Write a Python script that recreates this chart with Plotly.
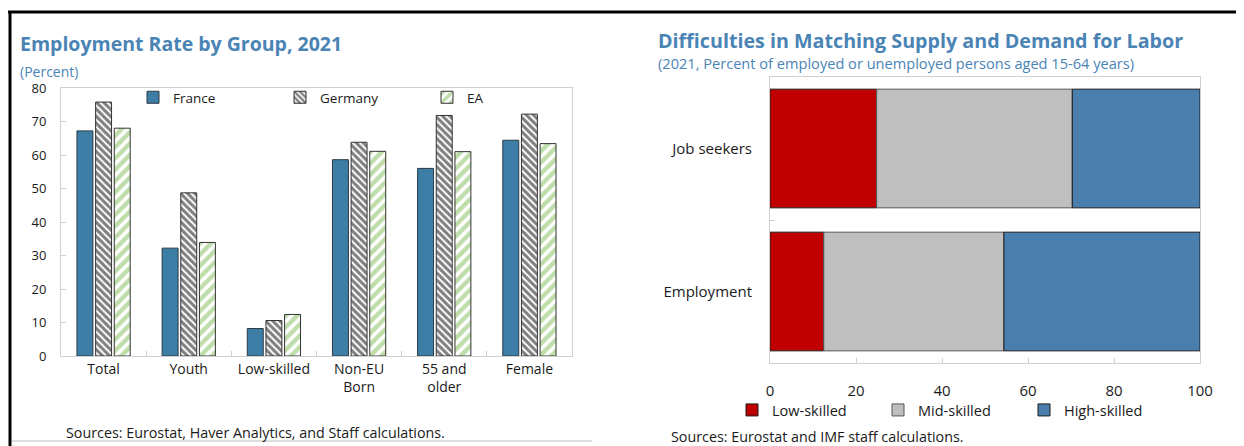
import plotly.graph_objects as go

# ---------------- data ----------------
groups = ["Total", "Youth", "Low-skilled", "Non-EU<br>Born", "55 and<br>older", "Female"]
france = [67.2, 32.2, 8.2, 58.6, 56.0, 64.4]
germany = [75.8, 48.7, 10.6, 63.8, 71.8, 72.2]
ea = [68.0, 33.9, 12.4, 61.1, 61.0, 63.4]

rows = ["Job seekers", "Employment"]
low_sk = [24.8, 12.5]
mid_sk = [45.5, 41.9]
high_sk = [29.7, 45.6]

# page body has an 8px margin: build the figure 8px smaller and shift coordinates
OFF = 8
W, H = 1244 - OFF, 446 - OFF
FONT = "Open Sans"
BLUE_T = "#4a84b5"


def px(x):
    return (x - OFF) / W


def py(y):
    return 1 - (y - OFF) / H


fig = go.Figure()

# ---------------- left chart ----------------
fig.add_trace(go.Bar(x=groups, y=france, name="France", xaxis="x", yaxis="y",
                     marker=dict(color="#3d7ea6", line=dict(color="#2b3a44", width=1)),
                     legend="legend"))
fig.add_trace(go.Bar(x=groups, y=germany, name="Germany", xaxis="x", yaxis="y",
                     marker=dict(color="white", line=dict(color="#333333", width=1),
                                 pattern=dict(shape="\\", fgcolor="#000000", bgcolor="white",
                                              size=5, solidity=0.6)),
                     legend="legend"))
fig.add_trace(go.Bar(x=groups, y=ea, name="EA", xaxis="x", yaxis="y",
                     marker=dict(color="white", line=dict(color="#333333", width=1),
                                 pattern=dict(shape="/", fgcolor="#7fbb55", bgcolor="white",
                                              size=8, solidity=0.55)),
                     legend="legend"))

# ---------------- right chart ----------------
base_mid = low_sk
base_high = [a + b for a, b in zip(low_sk, mid_sk)]
common = dict(orientation="h", xaxis="x2", yaxis="y2", legend="legend2",
              width=0.83, offset=-0.415, offsetgroup="r")
fig.add_trace(go.Bar(y=rows, x=low_sk, base=[0] * len(rows), name="Low-skilled",
                     marker=dict(color="#c00000", line=dict(color="#1a1a1a", width=1)), **common))
fig.add_trace(go.Bar(y=rows, x=mid_sk, base=base_mid, name="Mid-skilled",
                     marker=dict(color="#bfbfbf", line=dict(color="#555555", width=1)), **common))
fig.add_trace(go.Bar(y=rows, x=high_sk, base=base_high, name="High-skilled",
                     marker=dict(color="#4a7fad", line=dict(color="#1a1a1a", width=1)), **common))

axis_line = "#d0d0d0"

fig.update_layout(
    width=W, height=H, autosize=False,
    margin=dict(l=0, r=0, t=0, b=0, autoexpand=False),
    paper_bgcolor="white", plot_bgcolor="white",
    font=dict(family=FONT, color="#1a1a1a", size=13),
    barmode="group", bargap=0.343, bargroupgap=0.145,
    xaxis=dict(domain=[px(61), px(572)], showline=True, mirror=True, linecolor=axis_line,
               linewidth=1, ticks="inside", tickson="boundaries", ticklen=5,
               tickcolor=axis_line, showgrid=False, tickfont=dict(size=14),
               automargin=False),
    yaxis=dict(domain=[py(356), py(88)], range=[0, 80], dtick=10, showline=True, mirror=True,
               linecolor=axis_line, linewidth=1, ticks="inside", ticklen=5,
               tickcolor=axis_line, showgrid=False, zeroline=False,
               tickfont=dict(size=13), ticklabelstandoff=11, automargin=False),
    xaxis2=dict(domain=[px(770), px(1200)], anchor="y2", range=[0, 100], tickvals=[0, 20, 40, 60, 80, 100],
                showline=True, mirror=True, linecolor=axis_line, linewidth=1,
                ticks="inside", ticklen=5, tickcolor=axis_line, showgrid=False,
                zeroline=False, tickfont=dict(size=15), ticklabelstandoff=14,
                automargin=False),
    yaxis2=dict(domain=[py(363), py(77)], anchor="x2", categoryorder="array",
                categoryarray=["Employment", "Job seekers"], showline=True, mirror=True,
                linecolor=axis_line, linewidth=1, ticks="inside", tickson="boundaries",
                ticklen=5, tickcolor=axis_line, showgrid=False,
                tickfont=dict(size=15), ticklabelstandoff=14, automargin=False),
    legend=dict(orientation="h", x=px(133), y=py(82), xanchor="left", yanchor="top",
                bgcolor="rgba(0,0,0,0)", font=dict(size=13.5), entrywidth=102,
                entrywidthmode="pixels", itemwidth=30, traceorder="normal",
                itemclick=False, itemdoubleclick=False),
    legend2=dict(orientation="h", x=px(732), y=py(394), xanchor="left", yanchor="top",
                 bgcolor="rgba(0,0,0,0)", font=dict(size=14.5), entrywidth=101,
                 entrywidthmode="pixels", itemwidth=30, traceorder="normal",
                 itemclick=False, itemdoubleclick=False),
    showlegend=True,
)

annotations = [
    dict(text="<b>Employment Rate by Group, 2021</b>", x=px(18), y=py(43),
         font=dict(size=19.5, color=BLUE_T)),
    dict(text="(Percent)", x=px(18), y=py(71), font=dict(size=14, color=BLUE_T)),
    dict(text="Sources: Eurostat, Haver Analytics, and Staff calculations.", x=px(64), y=py(432),
         font=dict(size=14.3, color="#1a1a1a")),
    dict(text="<b>Difficulties in Matching Supply and Demand for Labor</b>", x=px(656), y=py(41),
         font=dict(size=19.7, color=BLUE_T)),
    dict(text="(2021, Percent of employed or unemployed persons aged 15-64 years)", x=px(656),
         y=py(63), font=dict(size=14.6, color=BLUE_T)),
    dict(text="Sources: Eurostat and IMF staff calculations.", x=px(669), y=py(436),
         font=dict(size=14.3, color="#1a1a1a")),
]
for a in annotations:
    fig.add_annotation(xref="paper", yref="paper", xanchor="left", yanchor="middle",
                       showarrow=False, **a)

# frame lines
fig.add_shape(type="line", xref="paper", yref="paper", x0=px(8), x1=1, y0=py(12), y1=py(12),
              line=dict(color="black", width=3))
fig.add_shape(type="line", xref="paper", yref="paper", x0=px(10), x1=px(10), y0=py(12), y1=0,
              line=dict(color="black", width=3))
fig.add_shape(type="line", xref="paper", yref="paper", x0=px(12), x1=px(592), y0=py(441), y1=py(441),
              line=dict(color="#bdbdbd", width=1))

fig.write_html("out.html")
